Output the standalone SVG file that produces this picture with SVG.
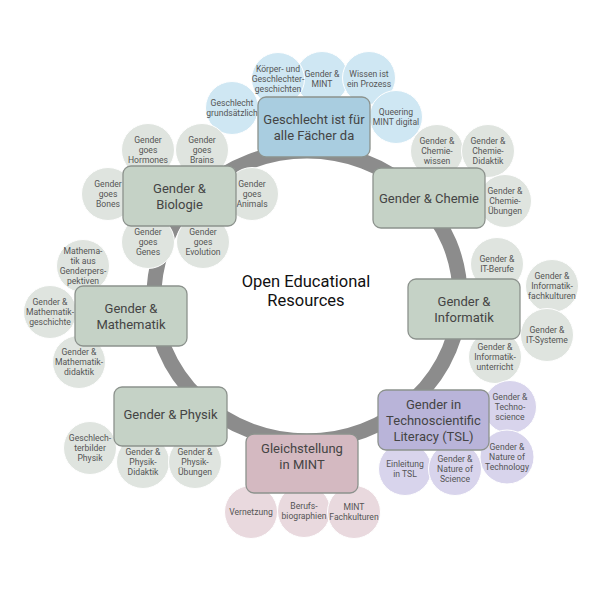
<svg xmlns="http://www.w3.org/2000/svg" width="600" height="600" viewBox="0 0 600 600">
<style>
.ring{fill:none;stroke:#8c8c8c;stroke-width:15}
.box{stroke:#8c928d;stroke-width:1.3}
.bb{fill:#a9cde0}.cb{fill:#cfe7f3}
.bg{fill:#c5d2c6}.cg{fill:#dfe4df}
.bp{fill:#b9b4d9}.cp{fill:#d8d4ec}
.bk{fill:#d4b9c1}.ck{fill:#e9d9de}
.circ{stroke:#ffffff;stroke-width:1}
text{font-family:Roboto,"Liberation Sans",sans-serif;text-anchor:middle}
.t{font-size:13px;fill:#444}
.s{font-size:8.6px;fill:#555}
.c{font-size:16.5px;fill:#111}
</style>
<rect width="600" height="600" fill="#ffffff"/>
<g id="connectors">
<ellipse class="ring" cx="307" cy="296" rx="153" ry="145"/>
</g>
<text class="c" x="306" y="287">Open Educational</text>
<text class="c" x="306" y="306">Resources</text>

<!-- blue circles -->
<g id="c-gendermint"><circle class="circ cb" cx="322" cy="78" r="26.5"/><text class="s" x="322" y="77">Gender &amp;<tspan x="322" dy="10">MINT</tspan></text></g>
<g id="c-wissen"><circle class="circ cb" cx="369" cy="78" r="26.5"/><text class="s" x="369" y="77">Wissen ist<tspan x="369" dy="10">ein Prozess</tspan></text></g>
<g id="c-grundsaetzlich"><circle class="circ cb" cx="232" cy="108" r="26.5"/><text class="s" x="232" y="106">Geschlecht<tspan x="232" dy="10">grundsätzlich</tspan></text></g>
<g id="c-koerper"><circle class="circ cb" cx="278" cy="79" r="26.5"/><text class="s" x="278" y="72">Körper- und<tspan x="278" dy="10">Geschlechter-</tspan><tspan x="278" dy="10">geschichten</tspan></text></g>
<g id="c-queering"><circle class="circ cb" cx="396" cy="117" r="26.5"/><text class="s" x="396" y="115">Queering<tspan x="396" dy="10">MINT digital</tspan></text></g>

<!-- chemie circles -->
<g id="c-chemiewissen"><circle class="circ cg" cx="437" cy="151" r="26.5"/><text class="s" x="437" y="144">Gender &amp;<tspan x="437" dy="10">Chemie-</tspan><tspan x="437" dy="10">wissen</tspan></text></g>
<g id="c-chemiedidaktik"><circle class="circ cg" cx="488" cy="151" r="26.5"/><text class="s" x="488" y="144">Gender &amp;<tspan x="488" dy="10">Chemie-</tspan><tspan x="488" dy="10">Didaktik</tspan></text></g>
<g id="c-chemieuebungen"><circle class="circ cg" cx="505" cy="201" r="26.5"/><text class="s" x="505" y="194">Gender &amp;<tspan x="505" dy="10">Chemie-</tspan><tspan x="505" dy="10">Übungen</tspan></text></g>

<!-- biologie circles -->
<g id="c-hormones"><circle class="circ cg" cx="148" cy="150" r="26.5"/><text class="s" x="148" y="143">Gender<tspan x="148" dy="10">goes</tspan><tspan x="148" dy="10">Hormones</tspan></text></g>
<g id="c-brains"><circle class="circ cg" cx="202" cy="150" r="26.5"/><text class="s" x="202" y="143">Gender<tspan x="202" dy="10">goes</tspan><tspan x="202" dy="10">Brains</tspan></text></g>
<g id="c-bones"><circle class="circ cg" cx="108" cy="194" r="26.5"/><text class="s" x="108" y="187">Gender<tspan x="108" dy="10">goes</tspan><tspan x="108" dy="10">Bones</tspan></text></g>
<g id="c-animals"><circle class="circ cg" cx="252" cy="194" r="26.5"/><text class="s" x="252" y="187">Gender<tspan x="252" dy="10">goes</tspan><tspan x="252" dy="10">Animals</tspan></text></g>
<g id="c-genes"><circle class="circ cg" cx="148" cy="242" r="26.5"/><text class="s" x="148" y="235">Gender<tspan x="148" dy="10">goes</tspan><tspan x="148" dy="10">Genes</tspan></text></g>
<g id="c-evolution"><circle class="circ cg" cx="203" cy="242" r="26.5"/><text class="s" x="203" y="235">Gender<tspan x="203" dy="10">goes</tspan><tspan x="203" dy="10">Evolution</tspan></text></g>

<!-- mathematik circles -->
<g id="c-mathperspektiven"><circle class="circ cg" cx="83" cy="266" r="26.5"/><text class="s" x="83" y="254">Mathema-<tspan x="83" dy="10">tik aus</tspan><tspan x="83" dy="10">Genderpers-</tspan><tspan x="83" dy="10">pektiven</tspan></text></g>
<g id="c-mathgeschichte"><circle class="circ cg" cx="50" cy="312" r="26.5"/><text class="s" x="50" y="305">Gender &amp;<tspan x="50" dy="10">Mathematik-</tspan><tspan x="50" dy="10">geschichte</tspan></text></g>
<g id="c-mathdidaktik"><circle class="circ cg" cx="79" cy="362" r="26.5"/><text class="s" x="79" y="355">Gender &amp;<tspan x="79" dy="10">Mathematik-</tspan><tspan x="79" dy="10">didaktik</tspan></text></g>

<!-- informatik circles -->
<g id="c-itberufe"><circle class="circ cg" cx="497" cy="264" r="26.5"/><text class="s" x="497" y="262">Gender &amp;<tspan x="497" dy="10">IT-Berufe</tspan></text></g>
<g id="c-infofachkulturen"><circle class="circ cg" cx="552" cy="286" r="26.5"/><text class="s" x="552" y="279">Gender &amp;<tspan x="552" dy="10">Informatik-</tspan><tspan x="552" dy="10">fachkulturen</tspan></text></g>
<g id="c-itsysteme"><circle class="circ cg" cx="547" cy="335" r="26.5"/><text class="s" x="547" y="333">Gender &amp;<tspan x="547" dy="10">IT-Systeme</tspan></text></g>
<g id="c-infounterricht"><circle class="circ cg" cx="495" cy="357" r="26.5"/><text class="s" x="495" y="350">Gender &amp;<tspan x="495" dy="10">Informatik-</tspan><tspan x="495" dy="10">unterricht</tspan></text></g>

<!-- TSL circles -->
<g id="c-technoscience"><circle class="circ cp" cx="510" cy="407" r="26.5"/><text class="s" x="510" y="400">Gender &amp;<tspan x="510" dy="10">Techno-</tspan><tspan x="510" dy="10">science</tspan></text></g>
<g id="c-naturetechnology"><circle class="circ cp" cx="507" cy="457" r="27"/><text class="s" x="507" y="450">Gender &amp;<tspan x="507" dy="10">Nature of</tspan><tspan x="507" dy="10">Technology</tspan></text></g>
<g id="c-einleitung"><circle class="circ cp" cx="405" cy="469" r="26.5"/><text class="s" x="405" y="467">Einleitung<tspan x="405" dy="10">in TSL</tspan></text></g>
<g id="c-naturescience"><circle class="circ cp" cx="455" cy="469" r="26.5"/><text class="s" x="455" y="462">Gender &amp;<tspan x="455" dy="10">Nature of</tspan><tspan x="455" dy="10">Science</tspan></text></g>

<!-- physik circles -->
<g id="c-geschlechterbilder"><circle class="circ cg" cx="90" cy="448" r="26.5"/><text class="s" x="90" y="441">Geschlech-<tspan x="90" dy="10">terbilder</tspan><tspan x="90" dy="10">Physik</tspan></text></g>
<g id="c-physikdidaktik"><circle class="circ cg" cx="143" cy="462" r="26.5"/><text class="s" x="143" y="455">Gender &amp;<tspan x="143" dy="10">Physik-</tspan><tspan x="143" dy="10">Didaktik</tspan></text></g>
<g id="c-physikuebungen"><circle class="circ cg" cx="195" cy="462" r="26.5"/><text class="s" x="195" y="455">Gender &amp;<tspan x="195" dy="10">Physik-</tspan><tspan x="195" dy="10">Übungen</tspan></text></g>

<!-- gleichstellung circles -->
<g id="c-vernetzung"><circle class="circ ck" cx="251" cy="512" r="26.5"/><text class="s" x="251" y="515">Vernetzung</text></g>
<g id="c-berufsbiographien"><circle class="circ ck" cx="304" cy="511" r="26.5"/><text class="s" x="304" y="509">Berufs-<tspan x="304" dy="10">biographien</tspan></text></g>
<g id="c-mintfachkulturen"><circle class="circ ck" cx="354" cy="512" r="26.5"/><text class="s" x="354" y="510">MINT<tspan x="354" dy="10">Fachkulturen</tspan></text></g>

<!-- main boxes -->
<g id="n-geschlecht"><rect class="box bb" x="258" y="97" width="112" height="60" rx="8"/><text class="t" x="314" y="124">Geschlecht ist für<tspan x="314" dy="15.5">alle Fächer da</tspan></text></g>
<g id="n-chemie"><rect class="box bg" x="373" y="168" width="112" height="60" rx="8"/><text class="t" x="429" y="202.5">Gender &amp; Chemie</text></g>
<g id="n-biologie"><rect class="box bg" x="123" y="166" width="113" height="60" rx="8"/><text class="t" x="179.5" y="193">Gender &amp;<tspan x="179.5" dy="15.5">Biologie</tspan></text></g>
<g id="n-mathematik"><rect class="box bg" x="75" y="286" width="112" height="60" rx="8"/><text class="t" x="131" y="313">Gender &amp;<tspan x="131" dy="15.5">Mathematik</tspan></text></g>
<g id="n-informatik"><rect class="box bg" x="408" y="279" width="112" height="60" rx="8"/><text class="t" x="464" y="306">Gender &amp;<tspan x="464" dy="15.5">Informatik</tspan></text></g>
<g id="n-tsl"><rect class="box bp" x="378" y="390" width="111" height="60" rx="8"/><text class="t" x="433.5" y="409">Gender in<tspan x="433.5" dy="16">Technoscientific</tspan><tspan x="433.5" dy="16">Literacy (TSL)</tspan></text></g>
<g id="n-physik"><rect class="box bg" x="114" y="387" width="113" height="59" rx="8"/><text class="t" x="170.5" y="418.5">Gender &amp; Physik</text></g>
<g id="n-gleichstellung"><rect class="box bk" x="246" y="434" width="112" height="59" rx="8"/><text class="t" x="302" y="453">Gleichstellung<tspan x="302" dy="15.5">in MINT</tspan></text></g>
</svg>
